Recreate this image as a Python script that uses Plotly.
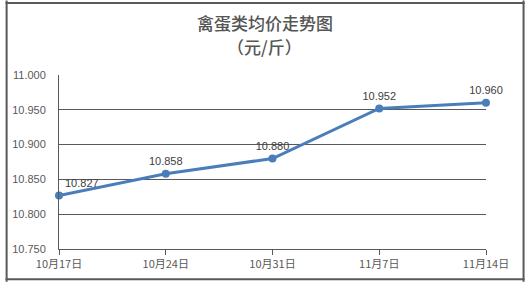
import plotly.graph_objects as go

categories = ["10月17日", "10月24日", "10月31日", "11月7日", "11月14日"]
values = [10.827, 10.858, 10.880, 10.952, 10.960]
labels = ["10.827", "10.858", "10.880", "10.952", "10.960"]
y_ticks = [10.75, 10.80, 10.85, 10.90, 10.95, 11.00]
y_ticklabels = ["10.750", "10.800", "10.850", "10.900", "10.950", "11.000"]
title_lines = ["禽蛋类均价走势图", "（元/斤）"]

W, H = 525, 283
L, R, T, B = 54, 39, 75, 33
pw, ph = W - L - R, H - T - B

def py(p):
    return (H - B - p) / ph

def px(p):
    return (p - L) / pw

xs = list(range(len(categories)))
positions = ["top right", "top center", "top center", "top center", "top center"]

fig = go.Figure()
fig.add_trace(go.Scatter(
    x=xs, y=values, mode="lines+markers+text",
    line=dict(color="#4A7EBB", width=3),
    marker=dict(color="#4A7EBB", size=8),
    text=labels, textposition=positions,
    textfont=dict(family="Liberation Sans, Arial", size=11, color="#404040"),
    cliponaxis=False, hoverinfo="skip",
))

font = "Noto Sans CJK SC"
border = dict(color="#595959", width=2)
fig.update_layout(
    width=W, height=H,
    margin=dict(l=L, r=R, t=T, b=B),
    paper_bgcolor="white", plot_bgcolor="white",
    showlegend=False,
    xaxis=dict(range=[0, 4], tickvals=xs, ticktext=categories,
               showgrid=False, zeroline=False, showline=True,
               linecolor="#595959", linewidth=1,
               ticks="outside", ticklen=5, tickcolor="#595959",
               tickfont=dict(family=font, size=11, color="#595959")),
    yaxis=dict(range=[10.75, 11.0], tickvals=y_ticks, ticktext=y_ticklabels,
               showgrid=True, gridcolor="#595959", gridwidth=1,
               zeroline=False, showline=True, linecolor="#595959", linewidth=1,
               ticks="", ticklabelstandoff=10,
               tickfont=dict(family="Liberation Sans, Arial", size=11, color="#595959")),
    annotations=[
        dict(text=title_lines[0], xref="paper", yref="paper", x=px(262), y=py(22),
             xanchor="center", yanchor="middle", showarrow=False,
             font=dict(family=font, size=17, color="#555555", weight=500)),
        dict(text=title_lines[1], xref="paper", yref="paper", x=px(262), y=py(46),
             xanchor="center", yanchor="middle", showarrow=False,
             font=dict(family=font, size=17, color="#555555", weight=500)),
    ],
    shapes=[
        dict(type="line", xref="paper", yref="paper", x0=px(0), x1=px(W), y0=py(2.5), y1=py(2.5), line=border),
        dict(type="line", xref="paper", yref="paper", x0=px(0), x1=px(W), y0=py(H - 2.5), y1=py(H - 2.5), line=border),
        dict(type="line", xref="paper", yref="paper", x0=px(1), x1=px(1), y0=py(0), y1=py(H), line=border),
        dict(type="line", xref="paper", yref="paper", x0=px(W - 1), x1=px(W - 1), y0=py(0), y1=py(H), line=border),
    ],
)
fig.write_html("out.html")
